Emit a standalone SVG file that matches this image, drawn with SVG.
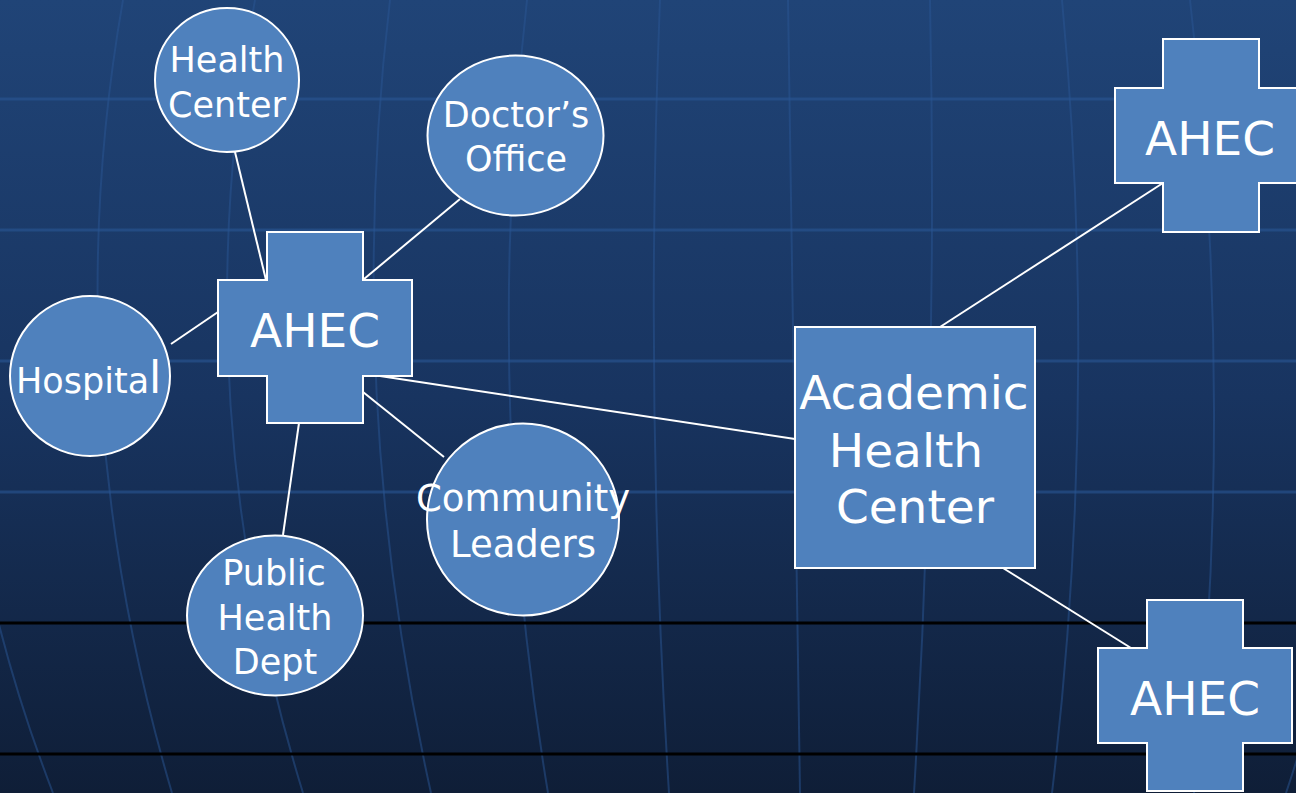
<svg xmlns="http://www.w3.org/2000/svg" width="1296" height="793" viewBox="0 0 1296 793">
  <defs>
    <linearGradient id="bg" x1="0" y1="0" x2="0" y2="1">
      <stop offset="0" stop-color="#204477"/>
      <stop offset="0.5" stop-color="#183460"/>
      <stop offset="1" stop-color="#0f1e37"/>
    </linearGradient>
  </defs>
  <style>
    .hgrid { stroke: #2a5694; stroke-opacity: 0.6; stroke-width: 3; fill: none; }
    .vgrid { stroke: #2a5694; stroke-opacity: 0.5; stroke-width: 2; fill: none; }
    .blk { stroke: #000; stroke-width: 3; }
    .node { fill: #4f81bd; stroke: #ffffff; stroke-width: 2; }
    .conn { stroke: #ffffff; stroke-width: 2; fill: none; }
    text { font-family: "DejaVu Sans", "Liberation Sans", sans-serif; fill: #ffffff; text-anchor: middle; }
    .big { font-size: 47px; }
    .sm { font-size: 35px; }
  </style>

  <g id="background">
    <rect x="0" y="0" width="1296" height="793" fill="url(#bg)"/>
    <line class="hgrid" x1="0" y1="99" x2="1296" y2="99"/>
    <line class="hgrid" x1="0" y1="230" x2="1296" y2="230"/>
    <line class="hgrid" x1="0" y1="361" x2="1296" y2="361"/>
    <line class="hgrid" x1="0" y1="492" x2="1296" y2="492"/>
    <path class="vgrid" d="M-10,0 Q-100,396 53,793"/>
    <path class="vgrid" d="M123,0 Q54,392 172,793"/>
    <path class="vgrid" d="M255,0 Q181,396 303,793"/>
    <path class="vgrid" d="M390,0 Q343,396 431,793"/>
    <path class="vgrid" d="M527,0 Q482,396 548,793"/>
    <path class="vgrid" d="M660,0 Q644,396 669,793"/>
    <path class="vgrid" d="M788,0 Q794,396 800,793"/>
    <path class="vgrid" d="M930,0 Q938,396 914,793"/>
    <path class="vgrid" d="M1062,0 Q1099,396 1052,793"/>
    <path class="vgrid" d="M1190,0 Q1236,396 1194,793"/>
    <path class="vgrid" d="M1310,0 Q1420,396 1286,793"/>
    <line class="blk" x1="0" y1="623" x2="1296" y2="623"/>
    <line class="blk" x1="0" y1="754" x2="1296" y2="754"/>
  </g>

  <g id="connectors">
    <line class="conn" x1="235" y1="152" x2="266" y2="280"/>
    <line class="conn" x1="460" y1="199" x2="364" y2="279"/>
    <line class="conn" x1="171" y1="344" x2="218" y2="312"/>
    <line class="conn" x1="363" y1="392" x2="444" y2="457"/>
    <line class="conn" x1="380" y1="376" x2="795" y2="439"/>
    <line class="conn" x1="299" y1="423" x2="283" y2="535"/>
    <line class="conn" x1="940" y1="327" x2="1163" y2="183"/>
    <line class="conn" x1="1003" y1="568" x2="1131" y2="648"/>
  </g>

  <g id="health-center">
    <ellipse class="node" cx="227" cy="80" rx="72" ry="72"/>
    <text class="sm" x="227" y="72">Health</text>
    <text class="sm" x="227" y="117">Center</text>
  </g>

  <g id="doctors-office">
    <ellipse class="node" cx="515.5" cy="135.5" rx="88" ry="80"/>
    <text class="sm" x="516" y="127">Doctor’s</text>
    <text class="sm" x="516" y="171">Office</text>
  </g>

  <g id="hospital">
    <ellipse class="node" cx="90" cy="376" rx="80" ry="80"/>
    <text class="sm" x="16" y="393" style="text-anchor:start">Hospita<tspan style="font-size:44px">l</tspan></text>
  </g>

  <g id="ahec-main">
    <path class="node" d="M267,232 H363 V280 H412 V376 H363 V423 H267 V376 H218 V280 H267 Z"/>
    <text class="big" x="315" y="347">AHEC</text>
  </g>

  <g id="community-leaders">
    <ellipse class="node" cx="523" cy="519.5" rx="96" ry="96"/>
    <text style="font-size:37px" x="523" y="511">Community</text>
    <text style="font-size:37px" x="523" y="557">Leaders</text>
  </g>

  <g id="public-health-dept">
    <ellipse class="node" cx="275" cy="615.5" rx="88" ry="80"/>
    <text class="sm" x="274" y="585">Public</text>
    <text class="sm" x="275" y="630">Health</text>
    <text class="sm" x="275" y="674">Dept</text>
  </g>

  <g id="academic-health-center">
    <rect class="node" x="795" y="327" width="240" height="241"/>
    <text class="big" x="914" y="409">Academic</text>
    <text class="big" x="906" y="467">Health</text>
    <text class="big" x="915" y="523">Center</text>
  </g>

  <g id="ahec-top-right">
    <path class="node" d="M1163,39 H1259 V88 H1307 V183 H1259 V232 H1163 V183 H1115 V88 H1163 Z"/>
    <text class="big" x="1210" y="155">AHEC</text>
  </g>

  <g id="ahec-bottom-right">
    <path class="node" d="M1147,600 H1243 V648 H1292 V743 H1243 V791 H1147 V743 H1098 V648 H1147 Z"/>
    <text class="big" x="1195" y="715">AHEC</text>
  </g>
</svg>
